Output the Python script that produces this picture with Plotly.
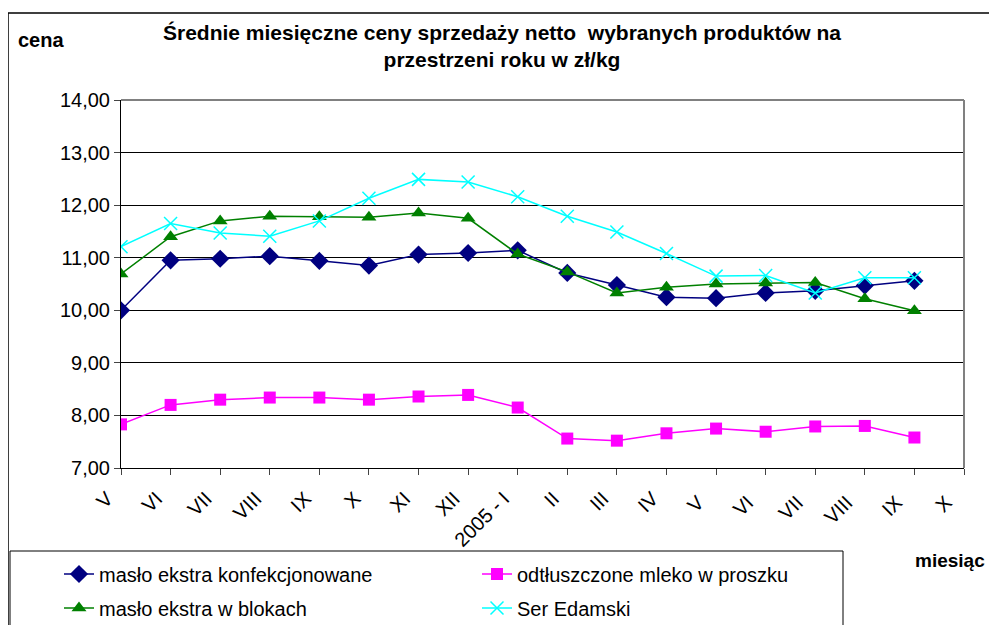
import plotly.graph_objects as go

months = ["V", "VI", "VII", "VIII", "IX", "X", "XI", "XII", "2005 - I", "II", "III",
          "IV", "V ", "VI ", "VII ", "VIII ", "IX ", "X "]

maslo_konf = [10.00, 10.95, 10.98, 11.03, 10.94, 10.85, 11.06, 11.09, 11.14,
              10.71, 10.48, 10.25, 10.23, 10.33, 10.37, 10.47, 10.56]
mleko = [7.83, 8.20, 8.30, 8.34, 8.34, 8.30, 8.36, 8.39, 8.15,
         7.56, 7.52, 7.66, 7.75, 7.69, 7.79, 7.80, 7.58]
maslo_blok = [10.69, 11.40, 11.70, 11.79, 11.78, 11.77, 11.85, 11.75, 11.07,
              10.73, 10.33, 10.44, 10.50, 10.52, 10.53, 10.22, 9.99]
ser = [11.21, 11.65, 11.47, 11.41, 11.70, 12.13, 12.49, 12.44, 12.16,
       11.79, 11.49, 11.08, 10.65, 10.66, 10.33, 10.62, 10.62]

FONT = "Liberation Sans, Arial, sans-serif"


# page pixel -> paper coordinate (plot area spans page x 121..964, y 100..468)
def px(x):
    return (x - 121) / 843


def py(y):
    return (468 - y) / 368


fig = go.Figure()
fig.add_trace(go.Scatter(
    x=months[:len(maslo_konf)], y=maslo_konf,
    mode="lines+markers", name="masło ekstra konfekcjonowane", legend="legend",
    line=dict(color="#000080", width=1.5),
    marker=dict(symbol="diamond", size=14, color="#000080"),
))
fig.add_trace(go.Scatter(
    x=months[:len(mleko)], y=mleko,
    mode="lines+markers", name="odtłuszczone mleko w proszku", legend="legend",
    line=dict(color="#FF00FF", width=1.5),
    marker=dict(symbol="square", size=12, color="#FF00FF"),
))
fig.add_trace(go.Scatter(
    x=months[:len(maslo_blok)], y=maslo_blok,
    mode="lines+markers", name="masło ekstra w blokach", legend="legend2",
    line=dict(color="#008000", width=1.5),
    marker=dict(symbol="triangle-up", size=13, color="#008000"),
))
fig.add_trace(go.Scatter(
    x=months[:len(ser)], y=ser,
    mode="lines+markers", name="Ser Edamski", legend="legend2",
    line=dict(color="#00FFFF", width=1.5),
    marker=dict(symbol="x-thin-open", size=13, color="#00FFFF",
                line=dict(color="#00FFFF", width=1.5)),
))

legend_common = dict(
    orientation="h", xanchor="left", yanchor="middle", entrywidth=373,
    bgcolor="rgba(0,0,0,0)", borderwidth=0, font=dict(size=20),
)

# the page body has an 8px margin, so the figure is 8px smaller than the window
fig.update_layout(
    width=989, height=617,
    margin=dict(l=113, r=33, t=92, b=157, autoexpand=False),
    paper_bgcolor="white", plot_bgcolor="white",
    font=dict(family=FONT, size=20, color="black"),
    separators=", ",
    showlegend=True,
    legend=dict(x=px(59), y=py(574), **legend_common),
    legend2=dict(x=px(59), y=py(608), **legend_common),
    xaxis=dict(
        type="category", categoryorder="array", categoryarray=months,
        range=[0, 17], tickangle=-45, ticks="outside", ticklen=6,
        ticklabelshift=-14, ticklabelstandoff=4,
        showline=True, linecolor="black", linewidth=1, showgrid=False,
        tickfont=dict(size=20), zeroline=False,
    ),
    yaxis=dict(
        range=[7, 14], dtick=1, tickformat=".2f", ticks="outside", ticklen=6,
        showline=True, linecolor="black", linewidth=1,
        showgrid=True, gridcolor="black", gridwidth=1, zeroline=False,
        tickfont=dict(size=20),
    ),
    shapes=[
        # plot area frame (top and right, gray)
        dict(type="line", xref="paper", yref="paper", x0=0, x1=1, y0=1, y1=1,
             line=dict(color="#808080", width=2)),
        dict(type="line", xref="paper", yref="paper", x0=1, x1=1, y0=0, y1=1,
             line=dict(color="#808080", width=2)),
        # chart area border
        dict(type="rect", xref="paper", yref="paper",
             x0=px(8), x1=px(1020), y0=py(650), y1=py(13),
             line=dict(color="black", width=1.5)),
        # legend box
        dict(type="rect", xref="paper", yref="paper",
             x0=px(10), x1=px(843), y0=py(650), y1=py(551),
             fillcolor="white", layer="above",
             line=dict(color="black", width=1)),
    ],
    annotations=[
        dict(text="<b>Średnie miesięczne ceny sprzedaży netto  wybranych produktów na<br>przestrzeni roku w zł/kg</b>",
             xref="paper", yref="paper", x=px(502), y=py(46),
             xanchor="center", yanchor="middle", showarrow=False,
             font=dict(size=21), align="center"),
        dict(text="<b>cena</b>", xref="paper", yref="paper",
             x=px(16), y=py(40),
             xanchor="left", yanchor="middle", showarrow=False, font=dict(size=20)),
        dict(text="<b>miesiąc</b>", xref="paper", yref="paper",
             x=px(987), y=py(560),
             xanchor="right", yanchor="middle", showarrow=False, font=dict(size=19)),
    ],
)

fig.write_html("out.html")
